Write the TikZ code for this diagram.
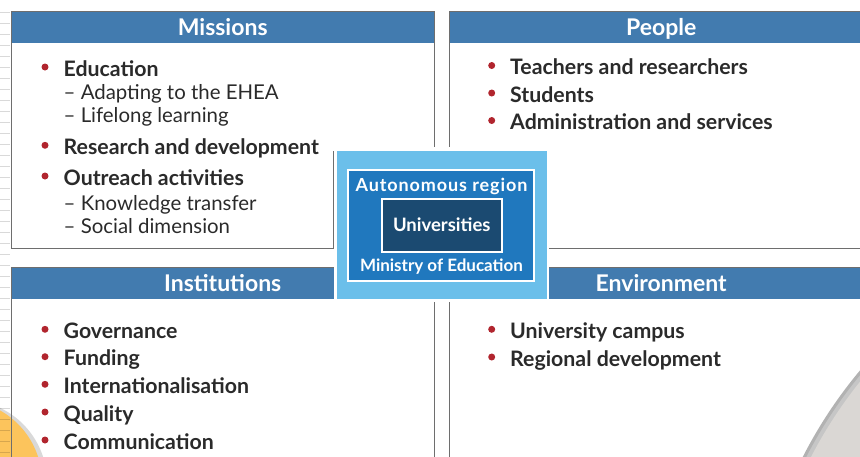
\documentclass[tikz,border=0pt]{standalone}
\usepackage{fontspec}
\setmainfont{Lato}
\usetikzlibrary{positioning}
\definecolor{HeadBlue}{HTML}{427BAF}
\definecolor{SkyBlue}{HTML}{6BBFEA}
\definecolor{MidBlue}{HTML}{2078BE}
\definecolor{NavyBlue}{HTML}{1B4A71}
\definecolor{DotRed}{HTML}{B1252E}
\definecolor{InkGrey}{HTML}{2A2A2A}
\definecolor{RimGrey}{HTML}{6E6E6E}
\definecolor{SunYellow}{HTML}{FCC45C}
\definecolor{StoneGrey}{HTML}{DAD7D4}

\tikzset{
  panel/.style={draw=RimGrey, line width=1pt},
  header/.style={fill=HeadBlue, text=white, anchor=north west, inner sep=0pt,
    minimum height=32pt, text height=16pt, text depth=0pt,
    font=\bfseries\fontsize{23}{27}\selectfont},
  bullet/.style={circle, fill=DotRed, inner sep=0pt, minimum size=7pt},
  itemtext/.style={anchor=base west, inner sep=0pt, text=InkGrey,
    font=\bfseries\fontsize{21.3}{25}\selectfont},
  subtext/.style={itemtext, font=\fontsize{20.4}{24}\selectfont},
  boxtext/.style={text=white, inner sep=0pt, anchor=base,
    font=\bfseries\fontsize{17}{20}\selectfont}
}

\begin{document}
\begin{tikzpicture}[x=1pt, y=-1pt]
    \useasboundingbox (0,0) rectangle (860,456);
    \clip (0,0) rectangle (860,456);

    % Decorative discs
    \fill[gray!30] (-35,482) circle (82);
    \fill[SunYellow] (-40,482) circle (82);
    \fill[gray!60] (1212,665) circle (459);
    \fill[gray!45] (1214,666) circle (458);
    \fill[StoneGrey] (1217,667) circle (457);

    % Ruled margin at the left
    \foreach \y in {12,23,...,456}
        \draw[black, opacity=0.15, line width=0.6pt] (0,\y) -- (10,\y);

    % Missions
    \node[header, minimum width=423pt] (missions) at (11,11) {Missions};
    \draw[panel] (11,11) rectangle (434,248);

    % People
    \node[header, minimum width=424pt] (people) at (449,11) {People};
    \draw[panel] (449,11) rectangle (873,248);

    % Institutions
    \node[header, minimum width=423pt] (institutions) at (11,267) {Institutions};
    \draw[panel] (11,267) rectangle (434,470);

    % Environment
    \node[header, minimum width=424pt] (environment) at (449,267) {Environment};
    \draw[panel] (449,267) rectangle (873,470);

    % Central box
    \fill[white] (334,147) rectangle (549,302);
    \draw[panel] (333,151) -- (333,248);
    \node[fill=SkyBlue, inner sep=0pt, minimum width=210pt, minimum height=148pt] (region) at (441.7,225.2) {};
    \node[fill=MidBlue, draw=white, line width=2pt, inner sep=0pt, minimum width=186pt, minimum height=111pt] (ministry) at (441.2,225.5) {};
    \node[fill=NavyBlue, draw=white, line width=2pt, inner sep=0pt, minimum width=120pt, minimum height=53pt] (unis) at (441.8,225.2) {};
    \node[boxtext, font=\bfseries\fontsize{18}{21}\selectfont] (autreg) at (441.5,191) {\addfontfeature{LetterSpace=5}Autonomous region};
    \node[boxtext, font=\bfseries\fontsize{18.5}{22}\selectfont] (unitext) at (441.8,231) {Universities};
    \node[boxtext] (mintext) at (441.5,271) {Ministry of Education};

    % Missions list
    \foreach \txt/\y [count=\i] in {Education/76, Research and development/154.3, Outreach activities/185} {
        \node[bullet] (mdot\i) at (45,\y-9) {};
        \node[itemtext] (mitem\i) at (63.5,\y) {\txt};
    }
    \foreach \txt/\y [count=\i] in {Adapting to the EHEA/99.3, Lifelong learning/122.7, Knowledge transfer/210, Social dimension/233.3}
        \node[subtext] (msub\i) at (63.5,\y) {-- \txt};

    % People list
    \foreach \txt/\y [count=\i] in {Teachers and researchers/74.5, Students/102, Administration and services/129.5} {
        \node[bullet] (pdot\i) at (491.7,\y-9) {};
        \node[itemtext] (pitem\i) at (510,\y) {\txt};
    }

    % Institutions list
    \foreach \txt/\y [count=\i] in {Governance/338.3, Funding/365.7, Internationalisation/393.3, Quality/421, Communication/449} {
        \node[bullet] (idot\i) at (45,\y-9) {};
        \node[itemtext] (iitem\i) at (63.5,\y) {\txt};
    }

    % Environment list
    \foreach \txt/\y [count=\i] in {University campus/338.3, Regional development/366} {
        \node[bullet] (edot\i) at (491.7,\y-9) {};
        \node[itemtext] (eitem\i) at (510,\y) {\txt};
    }
\end{tikzpicture}
\end{document}
